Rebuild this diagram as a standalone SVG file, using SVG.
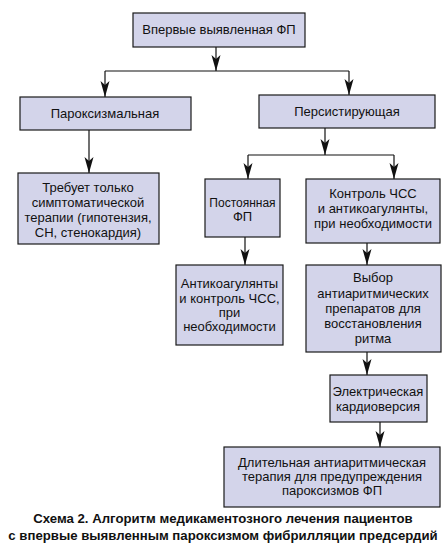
<svg xmlns="http://www.w3.org/2000/svg" width="445" height="551" viewBox="0 0 445 551">
<style>
.box{fill:#d3d4ea;stroke:#1a1a1a;stroke-width:1.2}
.t{font-family:"Liberation Sans",Arial,sans-serif;font-size:13px;fill:#111;text-anchor:middle}
.cap{font-family:"Liberation Sans",Arial,sans-serif;font-size:13.2px;font-weight:bold;fill:#111;text-anchor:middle}
.c{fill:none;stroke:#111;stroke-width:1.2}
.ah{fill:#111;stroke:none}
</style>
<rect width="445" height="551" fill="#fff"/>
<g id="connectors">
<path class="c" d="M216,47 V71"/>
<path class="c" d="M105,71 H349"/>
<path class="c" d="M105,71 V97"/>
<path class="c" d="M349,71 V95"/>
<path class="c" d="M89,130 V173"/>
<path class="c" d="M325,128 V155"/>
<path class="c" d="M248,155 H394"/>
<path class="c" d="M248,155 V179"/>
<path class="c" d="M394,155 V179"/>
<path class="c" d="M245,237 V265"/>
<path class="c" d="M367,243 V265"/>
<path class="c" d="M367,352 V375"/>
<path class="c" d="M380,422 V447"/>
<polygon class="ah" points="211.5,55 216,71 220.5,55 216,59"/>
<polygon class="ah" points="100.5,81 105,97 109.5,81 105,85"/>
<polygon class="ah" points="344.5,79 349,95 353.5,79 349,83"/>
<polygon class="ah" points="84.5,157 89,173 93.5,157 89,161"/>
<polygon class="ah" points="320.5,139 325,155 329.5,139 325,143"/>
<polygon class="ah" points="243.5,163 248,179 252.5,163 248,167"/>
<polygon class="ah" points="389.5,163 394,179 398.5,163 394,167"/>
<polygon class="ah" points="240.5,249 245,265 249.5,249 245,253"/>
<polygon class="ah" points="362.5,249 367,265 371.5,249 367,253"/>
<polygon class="ah" points="362.5,359 367,375 371.5,359 367,363"/>
<polygon class="ah" points="375.5,431 380,447 384.5,431 380,435"/>
</g>
<g id="n1"><rect class="box" x="133" y="13" width="172" height="34"/><text class="t" x="219" y="34">Впервые выявленная ФП</text></g>
<g id="n2"><rect class="box" x="20" y="97" width="171" height="33"/><text class="t" x="105" y="118">Пароксизмальная</text></g>
<g id="n3"><rect class="box" x="259" y="95" width="176" height="33"/><text class="t" x="347" y="116">Персистирующая</text></g>
<g id="n4"><rect class="box" x="18" y="173" width="141" height="71"/><text class="t" x="88" y="192">Требует только</text><text class="t" x="88" y="207">симптоматической</text><text class="t" x="88" y="222">терапии (гипотензия,</text><text class="t" x="88" y="237">СН, стенокардия)</text></g>
<g id="n5"><rect class="box" x="205" y="179" width="75" height="58"/><text class="t" x="242.5" y="207" style="font-size:12px">Постоянная</text><text class="t" x="242.5" y="221">ФП</text></g>
<g id="n6"><rect class="box" x="306" y="179" width="134" height="64"/><text class="t" x="373" y="198">Контроль ЧСС</text><text class="t" x="373" y="213">и антикоагулянты,</text><text class="t" x="373" y="228">при необходимости</text></g>
<g id="n7"><rect class="box" x="176" y="265" width="107" height="80"/><text class="t" x="229.5" y="288">Антикоагулянты</text><text class="t" x="229.5" y="303">и контроль ЧСС,</text><text class="t" x="229.5" y="317">при</text><text class="t" x="229.5" y="331">необходимости</text></g>
<g id="n8"><rect class="box" x="306" y="265" width="135" height="87"/><text class="t" x="373" y="282">Выбор</text><text class="t" x="373" y="298">антиаритмических</text><text class="t" x="373" y="313">препаратов для</text><text class="t" x="373" y="328">восстановления</text><text class="t" x="373" y="343">ритма</text></g>
<g id="n9"><rect class="box" x="330" y="375" width="97" height="47"/><text class="t" x="378" y="396">Электрическая</text><text class="t" x="378" y="411">кардиоверсия</text></g>
<g id="n10"><rect class="box" x="224" y="447" width="216" height="60"/><text class="t" x="332" y="467">Длительная антиаритмическая</text><text class="t" x="332" y="481">терапия для предупреждения</text><text class="t" x="332" y="495">пароксизмов ФП</text></g>
<text class="cap" x="223" y="523">Схема 2. Алгоритм медикаментозного лечения пациентов</text>
<text class="cap" x="223" y="540">с впервые выявленным пароксизмом фибрилляции предсердий</text>
</svg>
